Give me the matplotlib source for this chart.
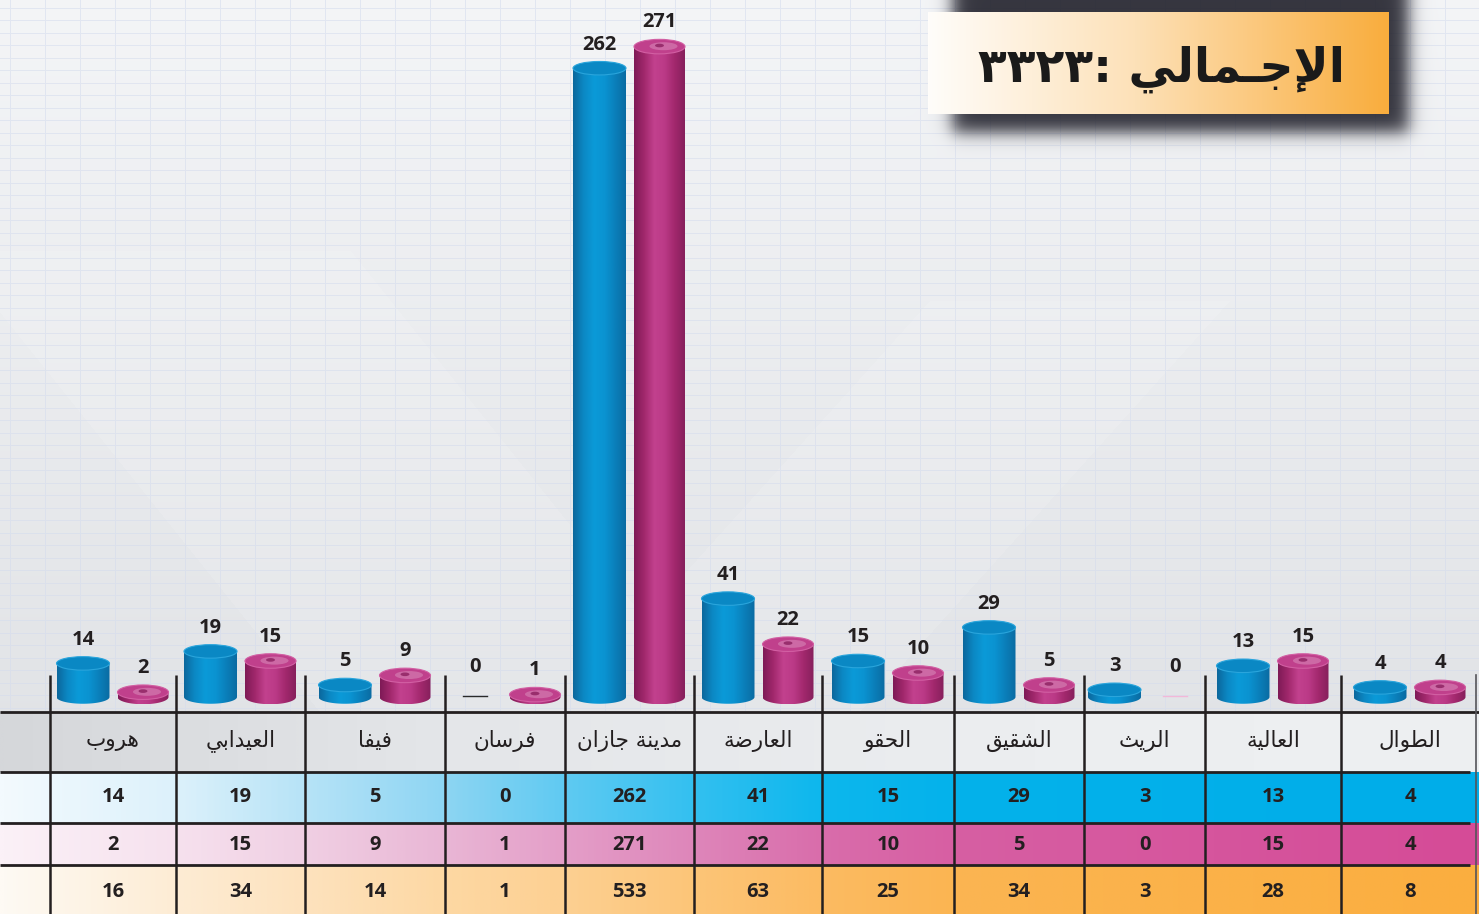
import numpy as np
import matplotlib
matplotlib.use('Agg')
import matplotlib.pyplot as plt
from matplotlib.colors import LinearSegmentedColormap
from matplotlib.patches import PathPatch, Ellipse
from matplotlib.path import Path

# ---------------- data ----------------
categories = ['هروب', 'العيدابي', 'فيفا', 'فرسان', 'مدينة جازان', 'العارضة',
              'الحقو', 'الشقيق', 'الريث', 'العالية', 'الطوال']
series_blue = [14, 19, 5, 0, 262, 41, 15, 29, 3, 13, 4]
series_pink = [2, 15, 9, 1, 271, 22, 10, 5, 0, 15, 4]
totals = [16, 34, 14, 1, 533, 63, 25, 34, 3, 28, 8]
title_label = 'الإجـمالي'
title_number = '٣٣٢٣'

# ---------------- minimal Arabic shaping (presentation forms + visual order) ----------------
FORMS = {
    'ا': ('\uFE8D', '\uFE8E', None, None), 'أ': ('\uFE83', '\uFE84', None, None),
    'إ': ('\uFE87', '\uFE88', None, None), 'آ': ('\uFE81', '\uFE82', None, None),
    'ب': ('\uFE8F', '\uFE90', '\uFE91', '\uFE92'), 'ة': ('\uFE93', '\uFE94', None, None),
    'ت': ('\uFE95', '\uFE96', '\uFE97', '\uFE98'), 'ث': ('\uFE99', '\uFE9A', '\uFE9B', '\uFE9C'),
    'ج': ('\uFE9D', '\uFE9E', '\uFE9F', '\uFEA0'), 'ح': ('\uFEA1', '\uFEA2', '\uFEA3', '\uFEA4'),
    'خ': ('\uFEA5', '\uFEA6', '\uFEA7', '\uFEA8'), 'د': ('\uFEA9', '\uFEAA', None, None),
    'ذ': ('\uFEAB', '\uFEAC', None, None), 'ر': ('\uFEAD', '\uFEAE', None, None),
    'ز': ('\uFEAF', '\uFEB0', None, None), 'س': ('\uFEB1', '\uFEB2', '\uFEB3', '\uFEB4'),
    'ش': ('\uFEB5', '\uFEB6', '\uFEB7', '\uFEB8'), 'ص': ('\uFEB9', '\uFEBA', '\uFEBB', '\uFEBC'),
    'ض': ('\uFEBD', '\uFEBE', '\uFEBF', '\uFEC0'), 'ط': ('\uFEC1', '\uFEC2', '\uFEC3', '\uFEC4'),
    'ظ': ('\uFEC5', '\uFEC6', '\uFEC7', '\uFEC8'), 'ع': ('\uFEC9', '\uFECA', '\uFECB', '\uFECC'),
    'غ': ('\uFECD', '\uFECE', '\uFECF', '\uFED0'), 'ف': ('\uFED1', '\uFED2', '\uFED3', '\uFED4'),
    'ق': ('\uFED5', '\uFED6', '\uFED7', '\uFED8'), 'ك': ('\uFED9', '\uFEDA', '\uFEDB', '\uFEDC'),
    'ل': ('\uFEDD', '\uFEDE', '\uFEDF', '\uFEE0'), 'م': ('\uFEE1', '\uFEE2', '\uFEE3', '\uFEE4'),
    'ن': ('\uFEE5', '\uFEE6', '\uFEE7', '\uFEE8'), 'ه': ('\uFEE9', '\uFEEA', '\uFEEB', '\uFEEC'),
    'و': ('\uFEED', '\uFEEE', None, None), 'ى': ('\uFEEF', '\uFEF0', None, None),
    'ي': ('\uFEF1', '\uFEF2', '\uFEF3', '\uFEF4'),
    'ـ': ('\u0640', '\u0640', '\u0640', '\u0640'),
}
LAM_ALEF = {'آ': ('\uFEF5', '\uFEF6'), 'أ': ('\uFEF7', '\uFEF8'),
            'إ': ('\uFEF9', '\uFEFA'), 'ا': ('\uFEFB', '\uFEFC')}


def shape(s):
    items = []
    i = 0
    while i < len(s):
        c = s[i]
        if c == 'ل' and i + 1 < len(s) and s[i + 1] in LAM_ALEF:
            items.append(('LA', s[i + 1]))
            i += 2
        else:
            items.append(('C', c))
            i += 1

    def arabic(it):
        return it[0] == 'LA' or it[1] in FORMS

    def joins_next(it):
        return it[0] == 'C' and it[1] in FORMS and FORMS[it[1]][2] is not None

    out = []
    for k, it in enumerate(items):
        prev = items[k - 1] if k > 0 else None
        nxt = items[k + 1] if k + 1 < len(items) else None
        cp = prev is not None and joins_next(prev) and arabic(it)
        cn = nxt is not None and arabic(nxt) and joins_next(it)
        if it[0] == 'LA':
            iso, fin = LAM_ALEF[it[1]]
            out.append(fin if cp else iso)
        elif it[1] in FORMS:
            iso, fin, ini, med = FORMS[it[1]]
            out.append(med if (cp and cn) else fin if cp else ini if cn else iso)
        else:
            out.append(it[1])
    return ''.join(reversed(out))


# ---------------- layout ----------------
W, H = 1479, 914
col_edges = [50, 176, 305, 445, 565, 694, 822, 954, 1084, 1205, 1341, 1479]
base_px = 697.0
ppu = 2.4          # pixels per value unit
row_y = [712, 772, 823, 865, 914]
TXT = '#231f20'
NUM_FONT = ['Open Sans', 'DejaVu Sans']
AR_FONT = ['DejaVu Sans']

fig = plt.figure(figsize=(W / 100, H / 100), dpi=100)
bg = fig.add_axes([0, 0, 1, 1])
bg.set_xlim(0, W)
bg.set_ylim(H, 0)
bg.axis('off')

# ---------------- background (gradient, graph-paper grid, title shadow) ----------------
yy, xx = np.mgrid[0:H, 0:W].astype(float)
t = np.clip(yy / 712.0, 0, 1)[..., None]
img = np.array([0.955, 0.960, 0.968]) * (1 - t) + np.array([0.885, 0.893, 0.905]) * t
light = ((xx - 0.8 * yy > -250) & (xx - 0.8 * yy < 150) & (yy > 250)) | \
        ((xx + 0.9 * yy > 1200) & (xx + 0.9 * yy < 1500) & (yy > 300))
img[light] = img[light] * 0.9 + 0.1
grid = ((((xx - 9.3) % 35.0) < 1.0) | (((yy - 7.3) % 12.5) < 1.0)) & (yy < 712)
img[grid] = img[grid] * 0.45 + np.array([0.83, 0.86, 0.93]) * 0.55


def soft(v, lo, hi, s):
    return 0.5 * (1 + np.tanh((v - lo) / s)) * 0.5 * (1 + np.tanh((hi - v) / s))


alpha = (0.9 * soft(xx, 952, 1408, 10) * soft(yy, -30, 132, 10))[..., None]
img = img * (1 - alpha) + np.array([0.13, 0.13, 0.17]) * alpha
bg.imshow(img, extent=[0, W, H, 0], aspect='auto', zorder=0, interpolation='bilinear')


def hgrad(ax, x0, x1, y0, y1, stops, z=1):
    cm = LinearSegmentedColormap.from_list('g', stops)
    ax.imshow(np.linspace(0, 1, 512).reshape(1, -1), cmap=cm, extent=[x0, x1, y1, y0],
              aspect='auto', zorder=z, interpolation='bilinear')


# ---------------- title box ----------------
hgrad(bg, 928, 1389, 12, 114, [(0, '#fffdfa'), (0.45, '#fde1b8'), (1, '#f9ad3d')], z=2)
title_txt = bg.text(1161, 82, title_number + ': ' + shape(title_label), ha='center',
                    va='baseline', fontsize=34, fontweight='bold', color='#1a1a1a',
                    family=AR_FONT, zorder=3)
fig.canvas.draw()
w = title_txt.get_window_extent().width
title_txt.set_fontsize(34 * 367.0 / w)

# ---------------- table ----------------
hgrad(bg, 0, W, row_y[0], row_y[1],
      [(0, '#d5d7da'), (0.3, '#e4e6e9'), (0.7, '#eceef0'), (1, '#eef0f2')])
x_stops = [0, 176, 305, 445, 565, 694, 822, 954, 1479]
blue_cols = ['#f3fafe', '#dcf1fb', '#b6e3f7', '#8dd5f3', '#5fcaf2', '#33c0f0', '#0db7ed', '#04b2eb', '#00ade9']
pink_cols = ['#fbf1f7', '#f6e1ee', '#f0cfe3', '#e9b6d5', '#e49ec8', '#de86ba', '#d96dab', '#d75fa3', '#d54b97']
orng_cols = ['#fefaf4', '#fdecd4', '#fde2bd', '#fdd8a3', '#fdd092', '#fcc578', '#fcbb62', '#fbb552', '#fbae3f']
for (y0, y1), cols in zip([(row_y[1], row_y[2]), (row_y[2], row_y[3]), (row_y[3], row_y[4])],
                          [blue_cols, pink_cols, orng_cols]):
    hgrad(bg, 0, W, y0, y1, [(x / W, c) for x, c in zip(x_stops, cols)])

LINE = '#231f20'
for y in row_y[:4]:
    bg.plot([0, 1470 if y != row_y[0] else W], [y, y], color=LINE, lw=2.0, zorder=4,
            solid_capstyle='butt')
for x in col_edges[:-1]:
    bg.plot([x, x], [675, H], color=LINE, lw=1.8, zorder=4, solid_capstyle='butt')
bg.plot([1476, 1476], [675, H], color='#55555a', lw=1.2, zorder=4)

row_values = [series_blue, series_pink, totals]
row_mid = [797, 845, 892]
for i, name in enumerate(categories):
    cx = (col_edges[i] + col_edges[i + 1]) / 2
    bg.text(cx, 741, shape(name), ha='center', va='center', fontsize=15.5,
            color=TXT, family=AR_FONT, zorder=5)
    for vals, ym in zip(row_values, row_mid):
        bg.text(cx, ym, str(vals[i]), ha='center', va='center', fontsize=14.5,
                fontweight='bold', color=TXT, family=NUM_FONT, zorder=5)

# ---------------- cylinders ----------------
ax = fig.add_axes([0, 0, 1, 1])
ax.set_xlim(0, W)
ax.set_ylim(-(H - base_px) / ppu, base_px / ppu)
ax.axis('off')
ax.patch.set_alpha(0)

blue_body = LinearSegmentedColormap.from_list('bb', ['#0c679c', '#0b88c4', '#0b9ad8', '#0a93d1', '#0a7fba', '#0a6ba2'])
pink_body = LinearSegmentedColormap.from_list('pb', ['#7e1a56', '#a1286c', '#c2418e', '#bb3a87', '#a2286d', '#86205c'])


def cylinder(cx, value, width, body_cmap, top_col, rim_col, ell_px, pink):
    a = width / 2.0
    b = ell_px / 2.0 / ppu
    tt = np.linspace(np.pi, 2 * np.pi, 80)
    xs = np.concatenate([[cx - a], cx + a * np.cos(tt), [cx + a]])
    ys = np.concatenate([[value], b * np.sin(tt), [value]])
    patch = PathPatch(Path(np.column_stack([xs, ys])), facecolor='none', edgecolor='none')
    ax.add_patch(patch)
    im = ax.imshow(np.linspace(0, 1, 256).reshape(1, -1), cmap=body_cmap,
                   extent=[cx - a, cx + a, -b, value], aspect='auto', origin='lower',
                   interpolation='bilinear', zorder=2)
    im.set_clip_path(patch)
    ax.add_patch(Ellipse((cx, value), 2 * a, 2 * b, facecolor=top_col, edgecolor=rim_col,
                         lw=0.8, zorder=3))
    if pink:
        ax.add_patch(Ellipse((cx + 4, value + b * 0.05), a * 1.1, b * 1.1, facecolor='white',
                             alpha=0.22, lw=0, zorder=3.1))
        ax.add_patch(Ellipse((cx, value + b * 0.15), a * 0.35, b * 0.5, facecolor='#8c2060',
                             alpha=0.8, lw=0, zorder=3.2))
    return value + b


BW = 53
for i in range(len(categories)):
    mid = (col_edges[i] + col_edges[i + 1]) / 2
    for val, dx, cmap, top_col, rim, pink, zcol in [
            (series_blue[i], -30, blue_body, '#0a88c4', '#2aa5dc', False, '#2a2a2a'),
            (series_pink[i], 30, pink_body, '#c0408c', '#d25fa3', True, '#f3b8d8')]:
        cx = mid + dx
        if val == 0:
            ax.plot([cx - 12, cx + 12], [0.3, 0.3], color=zcol, lw=1.0, zorder=3)
            top = 0.3
            off = 14
        else:
            top = cylinder(cx, val, BW if not pink else 51, cmap, top_col, rim,
                           13.5 if not pink else 14.5, pink)
            off = 5
        ax.annotate(str(val), (cx, top), xytext=(0, off), textcoords='offset points',
                    ha='center', va='bottom', fontsize=14.5, fontweight='bold',
                    color=TXT, family=NUM_FONT, zorder=6)

fig.savefig('out.png', dpi=100)
